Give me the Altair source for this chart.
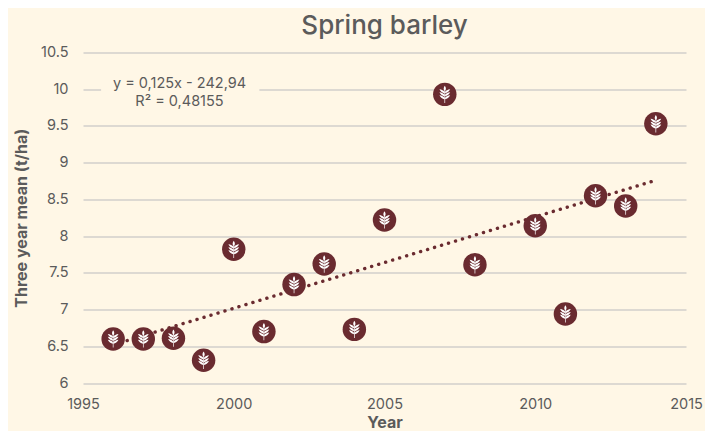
import altair as alt
import pandas as pd

years = [1996, 1997, 1998, 1999, 2000, 2001, 2002, 2003, 2004, 2005, 2007, 2008, 2010, 2011, 2012, 2013, 2014]
means = [6.60, 6.60, 6.61, 6.31, 7.82, 6.70, 7.34, 7.62, 6.73, 8.22, 9.93, 7.61, 8.14, 6.94, 8.55, 8.41, 9.53]
trend_years = [1996, 2014]
trend_vals = [6.52, 8.76]
y_ticks = [6, 6.5, 7, 7.5, 8, 8.5, 9, 9.5, 10, 10.5]
x_ticks = [1995, 2000, 2005, 2010, 2015]
eq_lines = ["y = 0,125x - 242,94", "R² = 0,48155"]

BG = "#FFF7E6"
TXT = "#5B5B5B"
DARK = "#6A2B30"
FONT = "Inter"


def leaf_pair(y):
    return (
        f"M0.05,{y + 0.3}C0.25,{y + 0.26} 0.5,{y + 0.08} 0.62,{y - 0.16}"
        f"C0.36,{y - 0.12} 0.12,{y - 0.02} 0.05,{y + 0.12}Z"
        f"M-0.05,{y + 0.3}C-0.25,{y + 0.26} -0.5,{y + 0.08} -0.62,{y - 0.16}"
        f"C-0.36,{y - 0.12} -0.12,{y - 0.02} -0.05,{y + 0.12}Z"
    )


WHEAT = (
    "M0,-1C0.14,-0.8 0.18,-0.6 0.05,-0.42L-0.05,-0.42C-0.18,-0.6 -0.14,-0.8 0,-1Z"
    + leaf_pair(-0.42) + leaf_pair(-0.08) + leaf_pair(0.26)
    + "M-0.04,-0.45L0.04,-0.45L0.04,1L-0.04,1Z"
)

pts = pd.DataFrame({"year": years, "mean": means})
trend = pd.DataFrame({"year": trend_years, "mean": trend_vals})

x_scale = alt.Scale(domain=[1995, 2015], nice=False, zero=False)
y_scale = alt.Scale(domain=[6, 10.5], nice=False, zero=False)
x_axis = alt.Axis(
    values=x_ticks, format="d", title="Year", grid=False, domain=False, ticks=False,
    labelFlush=False, labelPadding=14, titlePadding=4, labelFontSize=14.5, titleFontSize=16,
    titleFontWeight="bold", labelColor=TXT, titleColor=TXT, labelFont=FONT, titleFont=FONT,
)
y_axis = alt.Axis(
    values=y_ticks, labelExpr="datum.value", title="Three year mean (t/ha)",
    grid=True, gridColor="#BBBCBE", gridWidth=1.2, domain=False, ticks=False,
    labelPadding=15, titlePadding=11, labelFontSize=14.5, titleFontSize=16,
    titleFontWeight="bold", labelColor=TXT, titleColor=TXT, labelFont=FONT, titleFont=FONT,
)


def X(field):
    return alt.X(field, scale=x_scale, axis=x_axis)


def Y(field):
    return alt.Y(field, scale=y_scale, axis=y_axis)


mask = alt.Chart(pd.DataFrame({"a": [1995.6], "b": [2000.85], "c": [9.9], "d": [10.1]})).mark_rect(color=BG).encode(
    x=X("a:Q"), x2="b:Q", y=Y("c:Q"), y2="d:Q"
)

eq = pd.DataFrame({"year": [1998.2, 1998.2], "mean": [10.07, 9.83], "label": eq_lines})
eq_text = alt.Chart(eq).mark_text(font=FONT, fontSize=14.5, color=TXT, align="center", baseline="middle").encode(
    x=X("year:Q"), y=Y("mean:Q"), text="label:N"
)

line = alt.Chart(trend).mark_line(
    color=DARK, strokeWidth=3.4, strokeDash=[0.1, 7.2], strokeCap="round"
).encode(x=X("year:Q"), y=Y("mean:Q"))

disc = alt.Chart(pts).mark_point(shape="circle", filled=True, opacity=1, color=DARK, size=550).encode(
    x=X("year:Q"), y=Y("mean:Q")
)
icon = alt.Chart(pts).mark_point(shape=WHEAT, filled=True, opacity=1, color="#FFFFFF", size=300).encode(
    x=X("year:Q"), y=Y("mean:Q")
)

chart = (
    alt.layer(mask, eq_text, line, disc, icon)
    .properties(
        width=603, height=330.5, background=BG,
        title=alt.TitleParams(
            "Spring barley", font=FONT, fontSize=26, fontWeight=500, color=TXT,
            anchor="middle", offset=6,
        ),
        padding={"left": 75, "top": 44.5, "right": 19, "bottom": 48},
        autosize=alt.AutoSizeParams(type="none"),
    )
    .configure_view(stroke=None)
)

chart.save("out.html", embed_options={"renderer": "svg", "actions": False})
